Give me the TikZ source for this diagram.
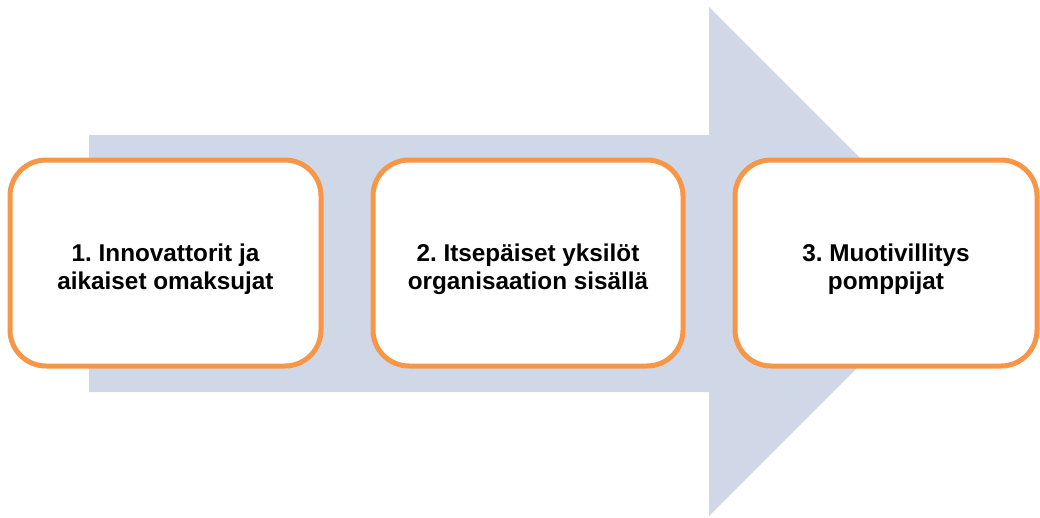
\documentclass[tikz,border=0pt]{standalone}
\usepackage{fontspec}
\setmainfont{Liberation Sans}
\definecolor{arrowfill}{HTML}{D0D8E8}
\definecolor{stageline}{HTML}{F79646}
% tall invisible strut that lowers the two-line label a little
\newcommand{\lowerstrut}{\rule{0pt}{30pt}}
\tikzset{
  stagebox/.style={draw=stageline, line width=5pt, fill=white,
    rounded corners=36pt, minimum height=206pt,
    align=center, font=\fontsize{24.3pt}{28pt}\selectfont\bfseries\frenchspacing},
}
\begin{document}
\begin{tikzpicture}[x=1pt, y=-1pt]
  \useasboundingbox (0,0) rectangle (1040,517);
  % large background arrow
  \fill[arrowfill] (89,135) -- (709,135) -- (709,7) -- (963.5,261.5)
    -- (709,516) -- (709,392) -- (89,392) -- cycle;
  % stages
  \node[stagebox, minimum width=311pt] (s1) at (165.5,263)
    {\lowerstrut 1. Innovattorit ja\\aikaiset omaksujat};
  \node[stagebox, minimum width=310pt] (s2) at (528,263)
    {\lowerstrut 2. Itsepäiset yksilöt\\organisaation sisällä};
  \node[stagebox, minimum width=302pt] (s3) at (886,263)
    {\lowerstrut 3. Muotivillitys\\pomppijat};
\end{tikzpicture}
\end{document}
